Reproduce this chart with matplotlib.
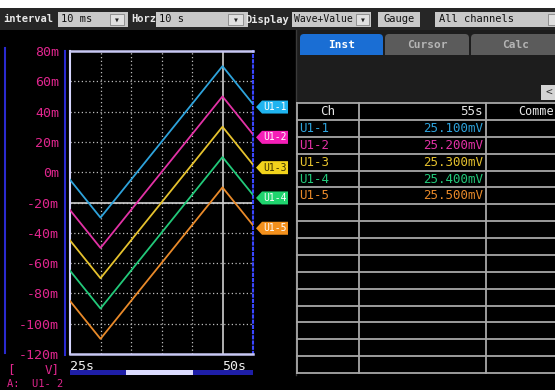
import matplotlib
matplotlib.use("Agg")
import matplotlib.pyplot as plt
from matplotlib.patches import Rectangle, Polygon, FancyBboxPatch
from matplotlib.lines import Line2D
from matplotlib.transforms import Affine2D, blended_transform_factory

# ---------------- data ----------------
times = [25, 30, 50, 55]                       # vertex times (s)
u1_1 = [-5, -30, 70, 45]                        # mV
u1_2 = [-25, -50, 50, 25]
u1_3 = [-45, -70, 30, 5]
u1_4 = [-65, -90, 10, -15]
u1_5 = [-85, -110, -10, -35]
channels = ["U1-1", "U1-2", "U1-3", "U1-4", "U1-5"]
readings = ["25.100mV", "25.200mV", "25.300mV", "25.400mV", "25.500mV"]
y_ticks = [80, 60, 40, 20, 0, -20, -40, -60, -80, -100, -120]
y_tick_labels = ["80m", "60m", "40m", "20m", "0m", "-20m", "-40m",
                 "-60m", "-80m", "-100m", "-120m"]
x_ticks = [25, 50]
x_tick_labels = ["25s", "50s"]
grid_x = [30, 35, 40, 45]
cursor_x = 50
level_y = -20

line_colors = ["#2ea3dc", "#e332a6", "#e6c22e", "#22c97a", "#e98a2a"]
tag_colors = ["#1fb4f0", "#f51fb8", "#f2d31c", "#1fd46e", "#f3901c"]
tag_text = ["#ffffff", "#ffffff", "#3a3000", "#ffffff", "#ffffff"]
series = [u1_1, u1_2, u1_3, u1_4, u1_5]

W, H = 555, 390
MONO = "DejaVu Sans Mono"
plt.rcParams['font.family'] = [MONO, 'DejaVu Sans']
fig = plt.figure(figsize=(W / 100, H / 100), dpi=100, facecolor="black")
pix = Affine2D().scale(1 / W, -1 / H).translate(0, 1) + fig.transFigure


def rect(x0, y0, x1, y1, color, ec="none", lw=0, z=1):
    fig.patches.append(Rectangle((x0, y0), x1 - x0, y1 - y0, transform=pix,
                                 facecolor=color, edgecolor=ec, lw=lw, zorder=z))


def line(x0, y0, x1, y1, color, lw=1.0, ls="-", z=2):
    fig.lines.append(Line2D([x0, x1], [y0, y1], transform=pix, color=color,
                            lw=lw, ls=ls, zorder=z))


def txt(x, y, s, **kw):
    kw.setdefault("va", "center")
    fig.text(x / W, 1 - y / H, s, **kw)


# ---------------- top toolbar ----------------
rect(0, 0, W, 8, "white")
rect(0, 8, W, 30, "#262626")
box = "#c9c9c9"
lab = dict(color="#e8e8e8", fontsize=7.5, fontweight="bold")
val = dict(color="#111111", fontsize=7.5)
txt(3, 19.5, "interval", **lab)
rect(58, 12, 128, 27, box)
txt(61, 19.5, "10 ms", **val)
rect(110, 14, 124, 25, "#e0e0e0", ec="#777777", lw=0.5)
txt(117, 19.5, "\u25be", color="#222222", fontsize=7, ha="center")
txt(131, 19.5, "Horz", **lab)
rect(156, 12, 248, 27, box)
txt(159, 19.5, "10 s", **val)
rect(228, 14, 243, 25, "#e0e0e0", ec="#777777", lw=0.5)
txt(235.5, 19.5, "\u25be", color="#222222", fontsize=7, ha="center")
txt(245, 19.5, "Display", **lab)
rect(292, 12, 371, 27, box)
txt(293.5, 19.5, "Wave+Value", color="#111111", fontsize=7)
rect(356, 14, 369, 25, "#e0e0e0", ec="#777777", lw=0.5)
txt(362.5, 19.5, "\u25be", color="#222222", fontsize=7, ha="center")
rect(378, 12, 420, 27, box)
txt(399, 19.5, "Gauge", ha="center", **val)
rect(435, 12, W, 27, box)
txt(439, 19.5, "All channels", **val)
rect(548, 14, W, 25, "#e0e0e0", ec="#777777", lw=0.5)

# ---------------- chart ----------------
ax = fig.add_axes([70 / W, (H - 354) / H, 183 / W, 303 / H])
ax.set_facecolor("black")
ax.set_xlim(25, 55)
ax.set_ylim(-120, 80)
for gx in grid_x:
    ax.axvline(gx, color="#bdbdbd", lw=0.9, ls=(0, (1, 2)), zorder=1)
for gy in y_ticks[1:-1]:
    ax.axhline(gy, color="#bdbdbd", lw=0.9, ls=(0, (1, 2)), zorder=1)
ax.axvline(cursor_x, color="#cfcfcf", lw=1.2, zorder=2)
ax.axhline(level_y, color="#cfcfcf", lw=1.2, zorder=2)
for vals, c in zip(series, line_colors):
    ax.plot(times, vals, color=c, lw=1.3, zorder=3)

ax.set_yticks(y_ticks)
ax.set_yticklabels(y_tick_labels)
ax.set_xticks(x_ticks)
ax.set_xticklabels(x_tick_labels)
ax.tick_params(axis="y", length=0, pad=8, labelcolor="#e0268e", labelsize=9.5)
ax.tick_params(axis="x", length=0, pad=4, labelcolor="#f0f0f0", labelsize=9.5)
for lbl in ax.get_xticklabels():
    lbl.set_horizontalalignment("left")
for s in ["top", "bottom"]:
    ax.spines[s].set_color("#c8c8f4")
    ax.spines[s].set_linewidth(1.8)
ax.spines["left"].set_color("#d6d6ff")
ax.spines["left"].set_linewidth(1.5)
ax.spines["right"].set_color("#3a46ff")
ax.spines["right"].set_linewidth(1.5)
ax.spines["right"].set_linestyle((0, (1, 1.5)))

# channel tags
tr = blended_transform_factory(ax.transAxes, ax.transData)
ax_w = 183.0
hh = 6.5 / 303 * 200
for vals, c, tc, name in zip(series, tag_colors, tag_text, channels):
    yv = vals[-1] - 2
    xa = 1 + 3 / ax_w
    xb = 1 + 9 / ax_w
    xe = 1 + 35 / ax_w
    poly = Polygon([[xa, yv], [xb, yv + hh], [xe, yv + hh], [xe, yv - hh], [xb, yv - hh]],
                   closed=True, transform=tr, facecolor=c, edgecolor="none",
                   clip_on=False, zorder=5)
    ax.add_patch(poly)
    ax.text(1 + 22 / ax_w, yv, name, transform=tr, color=tc, fontsize=7,
            ha="center", va="center", clip_on=False, zorder=6)

# left decorations
line(5, 48, 5, 353, "#2a2ad0", lw=1.5)
line(64.5, 51, 64.5, 355, "#2a2ad0", lw=1.5)
rect(70, 370, 253, 374.5, "#1e1ea8")
rect(126, 369.5, 193, 374.5, "#dcdcff")
txt(7, 370, "[", color="#e0268e", fontsize=9)
txt(60, 370, "V]", color="#e0268e", fontsize=9, ha="right")
txt(7, 384, "A:  U1- 2", color="#e0268e", fontsize=7.5)

# ---------------- right panel ----------------
rect(297, 30, W, 103, "#1d1d1d")
line(296, 30, 296, 375, "#3a3a3a", lw=1.0)


def tab(x0, x1, color, label, tcol):
    fig.patches.append(FancyBboxPatch((x0 + 4, 34 + 4), x1 - x0 - 8, 21 - 8,
                                      boxstyle="round,pad=4,rounding_size=4",
                                      transform=pix, facecolor=color,
                                      edgecolor="none", zorder=2))
    rect(x0, 46, x1, 55, color, z=2)
    txt((x0 + x1) / 2, 45, label, color=tcol, fontsize=8, fontweight="bold", ha="center")


tab(300, 383, "#1a6ed4", "Inst", "#ffffff")
tab(385, 469, "#5b5b5b", "Cursor", "#b5b5b5")
tab(471, 560, "#5b5b5b", "Calc", "#b5b5b5")
rect(541, 85, W, 100, "#d4d4d4")
txt(546, 92.5, "<", color="#333333", fontsize=8)

# table
tx0, tx1, tx2 = 297, 359, 486
top, head_b, row_h, n_rows = 103, 120, 16.87, 15
bottom = head_b + row_h * n_rows
rect(tx0, top, W, bottom, "black")
gcol = "#a8a8a8"
line(tx0, top, W, top, gcol, lw=1.3)
line(tx0, head_b, W, head_b, gcol, lw=1.3)
for k in range(1, n_rows + 1):
    yy = head_b + row_h * k
    line(tx0, yy, W, yy, gcol, lw=1.3)
for xx in [tx0, tx1, tx2]:
    line(xx, top, xx, bottom, gcol, lw=1.3)
tfs = 9
txt((tx0 + tx1) / 2, 111.5, "Ch", color="#e6e6e6", fontsize=tfs, ha="center")
txt(483, 111.5, "55s", color="#e6e6e6", fontsize=tfs, ha="right")
txt(554, 111.5, "Comme", color="#e6e6e6", fontsize=8.5, ha="right")
for i, (name, v, c) in enumerate(zip(channels, readings, line_colors)):
    yc = head_b + row_h * i + row_h / 2
    txt(299, yc, name, color=c, fontsize=tfs)
    txt(483, yc, v, color=c, fontsize=tfs, ha="right")

fig.savefig("out.png", dpi=100, facecolor="black")
